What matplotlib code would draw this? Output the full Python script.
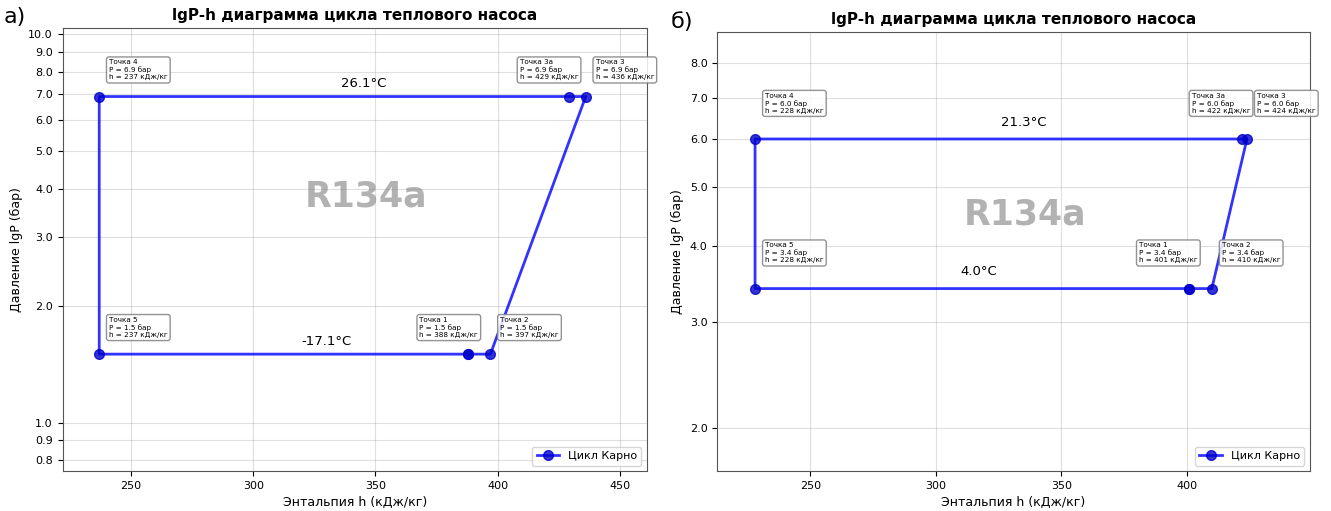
import matplotlib
matplotlib.use('agg')
import matplotlib.pyplot as plt

# точки цикла: 1, 2, 3, 3а, 4, 5
point_names = ['1', '2', '3', '3а', '4', '5']

left_h = [388, 397, 436, 429, 237, 237]
left_p = [1.5, 1.5, 6.9, 6.9, 6.9, 1.5]
left_t_high = '26.1°C'
left_t_low = '-17.1°C'
left_yticks = [0.8, 0.9, 1.0, 2.0, 3.0, 4.0, 5.0, 6.0, 7.0, 8.0, 9.0, 10.0]
left_xticks = [250, 300, 350, 400, 450]

right_h = [401, 410, 424, 422, 228, 228]
right_p = [3.4, 3.4, 6.0, 6.0, 6.0, 3.4]
right_t_high = '21.3°C'
right_t_low = '4.0°C'
right_yticks = [2.0, 3.0, 4.0, 5.0, 6.0, 7.0, 8.0]
right_xticks = [250, 300, 350, 400]

TITLE = 'lgP-h диаграмма цикла теплового насоса'


def draw_cycle(ax, h, p, t_high, t_low, yticks, xticks, thigh_x, tlow_x, wm_xy):
	order = [0, 1, 2, 3, 4, 5, 0]
	hh = [h[i] for i in order]
	pp = [p[i] for i in order]
	ax.plot(hh, pp, color='blue', lw=2, marker='o', ms=7, alpha=0.8,
			mfc='#0000cc', mec='#0000cc', label='Цикл Карно')
	ax.set_yscale('log')
	ax.set_xlim(min(h) - 15, max(h) + 25)
	ax.set_ylim(min(p) * 0.5, max(p) * 1.5)
	ax.minorticks_off()
	ax.set_yticks(yticks)
	ax.set_yticklabels(['%.1f' % v for v in yticks], fontsize=8)
	ax.set_xticks(xticks)
	ax.set_xticklabels([str(v) for v in xticks], fontsize=8)
	ax.grid(True, color='gray', alpha=0.25, lw=0.8)

	# подписи точек
	for i, name in enumerate(point_names):
		dx = -20 if name in ('1', '3а') else 4
		txt = 'Точка %s\nP = %.1f бар\nh = %d кДж/кг' % (name, p[i], h[i])
		ax.text(h[i] + dx, p[i] * 1.1, txt, fontsize=5.2, va='bottom', ha='left',
				bbox=dict(boxstyle='round,pad=0.35', fc='white', ec='gray', alpha=0.85))

	ax.text(thigh_x, max(p) * 1.04, t_high, ha='center', va='bottom', fontsize=9.5)
	ax.text(tlow_x, min(p) * 1.04, t_low, ha='center', va='bottom', fontsize=9.5)
	ax.text(wm_xy[0], wm_xy[1], 'R134a', transform=ax.transAxes, ha='center', va='center',
			fontsize=25, fontweight='bold', color='gray', alpha=0.6)

	ax.set_title(TITLE, fontsize=11, fontweight='bold')
	ax.set_xlabel('Энтальпия h (кДж/кг)', fontsize=9)
	ax.set_ylabel('Давление lgP (бар)', fontsize=9)
	ax.legend(loc='lower right', fontsize=8)
	for s in ax.spines.values():
		s.set_color('#555555')


fig = plt.figure(figsize=(13.31, 5.11), dpi=100)
ax1 = fig.add_axes([0.047, 0.078, 0.439, 0.867])
ax2 = fig.add_axes([0.539, 0.078, 0.445, 0.859])

draw_cycle(ax1, left_h, left_p, left_t_high, left_t_low, left_yticks, left_xticks, 345, 330, (0.52, 0.62))
draw_cycle(ax2, right_h, right_p, right_t_high, right_t_low, right_yticks, right_xticks, 335, 317, (0.52, 0.585))

fig.text(0.003, 0.955, 'а)', fontsize=16)
fig.text(0.504, 0.945, 'б)', fontsize=16)

plt.savefig('out.png', dpi=100)
plt.close()
